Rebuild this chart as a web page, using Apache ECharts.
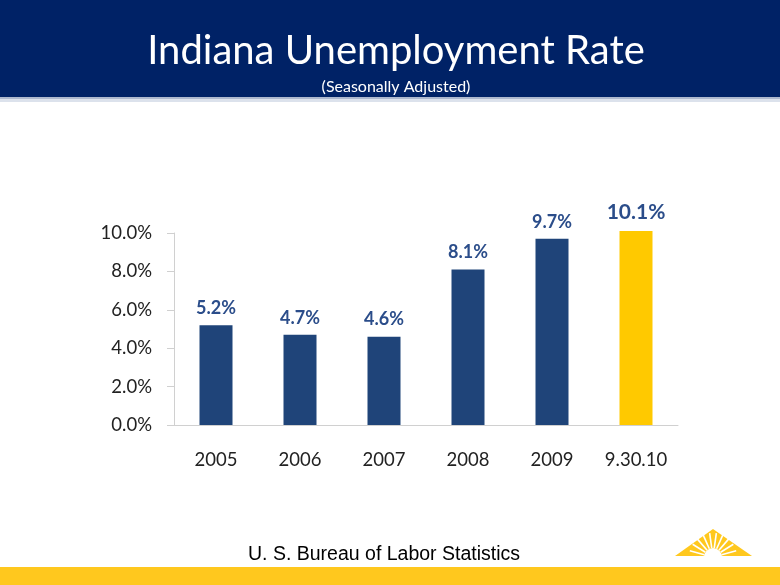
<!DOCTYPE html>
<html><head><meta charset="utf-8">
<script src="https://cdn.jsdelivr.net/npm/echarts@6/dist/echarts.min.js"></script>
<style>html,body{margin:0;padding:0;background:#fff}#c{width:780px;height:585px}</style>
</head><body><div id="c"></div>
<script>
const categories = ['2005','2006','2007','2008','2009','9.30.10'];
const rates = [5.2, 4.7, 4.6, 8.1, 9.7, 10.1];
const barColors = ['#1F4479','#1F4479','#1F4479','#1F4479','#1F4479','#FFC900'];
const labelSizes = [18,18,18,18,18,21];
const yTicks = {min:0, max:10, interval:2};

const chart = echarts.init(document.getElementById('c'));
const FONT = 'Lato';
chart.setOption({
  animation:false,
  graphic:[
    {type:'rect', shape:{x:0,y:0,width:780,height:97}, style:{fill:'#002266'}, z:0},
    {type:'rect', shape:{x:0,y:97,width:780,height:2}, style:{fill:'#AEB9CF'}, z:0},
    {type:'rect', shape:{x:0,y:99,width:780,height:3}, style:{fill:'#DCE2EC'}, z:0},
    {type:'text', x:396, y:31, style:{text:'Indiana Unemployment Rate', fill:'#fff', font:'40px '+FONT, textAlign:'center'}},
    {type:'text', x:396, y:79, style:{text:'(Seasonally Adjusted)', fill:'#fff', font:'16px '+FONT, textAlign:'center'}},
    {type:'rect', shape:{x:0,y:567,width:780,height:18}, style:{fill:'#FFC81E'}},
    {type:'text', x:248, y:545, style:{text:'U. S. Bureau of Labor Statistics', fill:'#000', font:'19.5px "Liberation Sans"'}},
    {type:'polygon', shape:{points:[[675,556],[713,529],[752,556]]}, style:{fill:'#FFC81E'}},
    {type:'sector', shape:{cx:713,cy:557,r:9,r0:0,startAngle:Math.PI,endAngle:2*Math.PI}, style:{fill:'#fff'}},
    ...[15,32,49,66,82,98,114,131,148,165].map(a=>{
      const t=a*Math.PI/180;
      return {type:'line', shape:{x1:713+9*Math.cos(t), y1:557-9*Math.sin(t), x2:713+24*Math.cos(t), y2:557-24*Math.sin(t)}, style:{stroke:'#fff', lineWidth:1.6}};
    })
  ],
  grid:{left:174, right:102, top:233, bottom:160, containLabel:false},
  xAxis:{
    type:'category', data:categories,
    axisLine:{lineStyle:{color:'#D0D0D0', width:1}},
    axisTick:{length:7, lineStyle:{color:'#D0D0D0'}},
    axisLabel:{color:'#222', fontFamily:FONT, fontSize:18.5, margin:26}
  },
  yAxis:{
    type:'value', min:yTicks.min, max:yTicks.max, interval:yTicks.interval,
    axisLine:{show:true, lineStyle:{color:'#D0D0D0'}},
    axisTick:{show:true, length:7, lineStyle:{color:'#D0D0D0'}},
    splitLine:{show:false},
    axisLabel:{color:'#222', fontFamily:FONT, fontSize:18.5, margin:22, formatter:v=>v.toFixed(1)+'%'}
  },
  series:[{
    type:'bar', clip:false, barWidth:33,
    data:rates.map((v,i)=>({value:v, itemStyle:{color:barColors[i]}, label:{fontSize:labelSizes[i]}})),
    label:{show:true, position:'top', distance:8, color:'#2B4D8A', fontWeight:'bold', fontFamily:FONT, formatter:p=>p.value.toFixed(1)+'%'}
  }]
});
</script></body></html>
